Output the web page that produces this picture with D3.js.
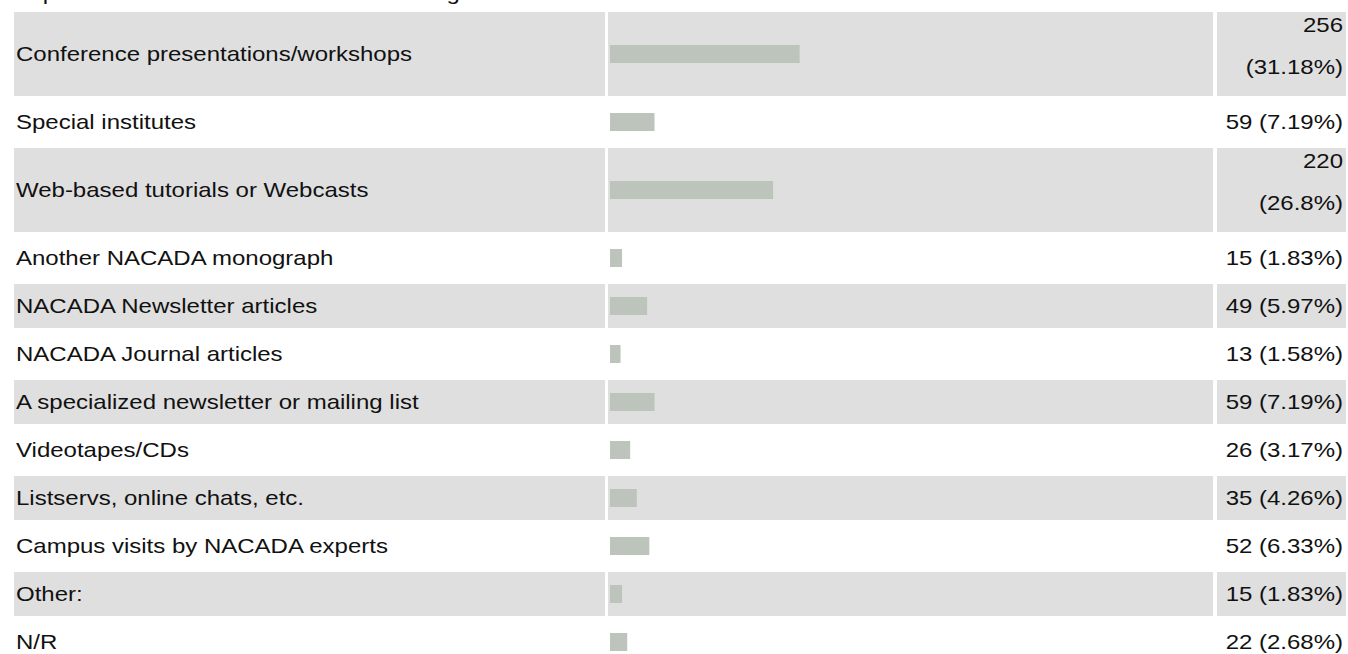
<!DOCTYPE html>
<html>
<head>
<meta charset="utf-8">
<script src="https://cdn.jsdelivr.net/npm/d3@7"></script>
<style>
  body { margin: 0; background: #fff; }
  svg text { font-family: "Liberation Sans", Arial, sans-serif; font-size: 20px; fill: #111; }
</style>
</head>
<body>
<div class="chart"></div>
<script>
// data
var title = "Impact of NACADA resources on advising";
var categories = [
  "Conference presentations/workshops",
  "Special institutes",
  "Web-based tutorials or Webcasts",
  "Another NACADA monograph",
  "NACADA Newsletter articles",
  "NACADA Journal articles",
  "A specialized newsletter or mailing list",
  "Videotapes/CDs",
  "Listservs, online chats, etc.",
  "Campus visits by NACADA experts",
  "Other:",
  "N/R"
];
var counts = [256, 59, 220, 15, 49, 13, 59, 26, 35, 52, 15, 22];
var percents = [31.18, 7.19, 26.8, 1.83, 5.97, 1.58, 7.19, 3.17, 4.26, 6.33, 1.83, 2.68];

var svgWidth = 1348;
var svgHeight = 654;
var stretch = 1.2;   // text in the picture is drawn wider than normal

var labelCell = { x: 14, w: 591 };
var barCell = { x: 608, w: 605 };
var valueCell = { x: 1217, w: 129 };
var top0 = 12, lineH = 40, pad = 2, spacing = 4, barH = 18;

var svg = d3.select(".chart")
  .append("svg")
  .attr("width", svgWidth)
  .attr("height", svgHeight);

// title, mostly cut off by the top edge
svg.append("text")
  .attr("transform", "translate(16, 0) scale(" + stretch + ",1)")
  .text(title);

// work out which value labels need two lines
var measure = svg.append("text").attr("x", -1000).attr("y", -1000);
var rows = categories.map(function(c, i) {
  var full = counts[i] + " (" + percents[i] + "%)";
  measure.text(full);
  var w = measure.node().getComputedTextLength() * stretch;
  var lines = w > valueCell.w - 2 * pad ? [String(counts[i]), "(" + percents[i] + "%)"] : [full];
  return { label: c, pct: percents[i], lines: lines, h: lines.length * lineH + 2 * pad };
});
measure.remove();

var y = top0;
rows.forEach(function(r) { r.y = y; y += r.h + spacing; });

var xScale = d3.scaleLinear()
  .domain([0, 100])
  .range([0, barCell.w]);

var rowGroups = svg.selectAll(".row")
  .data(rows)
  .enter()
  .append("g")
  .attr("class", "row")
  .attr("transform", d => `translate(0, ${d.y})`);

// striped backgrounds
[labelCell, barCell, valueCell].forEach(function(cell) {
  rowGroups.filter((d, i) => i % 2 === 0)
    .append("rect")
    .attr("x", cell.x)
    .attr("width", cell.w)
    .attr("height", d => d.h)
    .attr("fill", "#dfdfdf");
});

// labels
rowGroups.append("text")
  .attr("transform", d => `translate(${labelCell.x + 2}, ${d.h / 2}) scale(${stretch},1)`)
  .attr("dy", "0.35em")
  .text(d => d.label);

// bars
rowGroups.append("rect")
  .attr("x", barCell.x + 2)
  .attr("y", d => d.h / 2 - barH / 2)
  .attr("width", d => xScale(d.pct) + 1)
  .attr("height", barH)
  .attr("fill", "#bcc4bb");

// values
rowGroups.each(function(d) {
  var g = d3.select(this);
  d.lines.forEach(function(line, j) {
    var cy = d.lines.length === 1 ? d.h / 2 : 13 + j * 42;
    g.append("text")
      .attr("transform", `translate(${valueCell.x + valueCell.w - 3}, ${cy}) scale(${stretch},1)`)
      .attr("dy", "0.35em")
      .attr("text-anchor", "end")
      .text(line);
  });
});
</script>
</body>
</html>
